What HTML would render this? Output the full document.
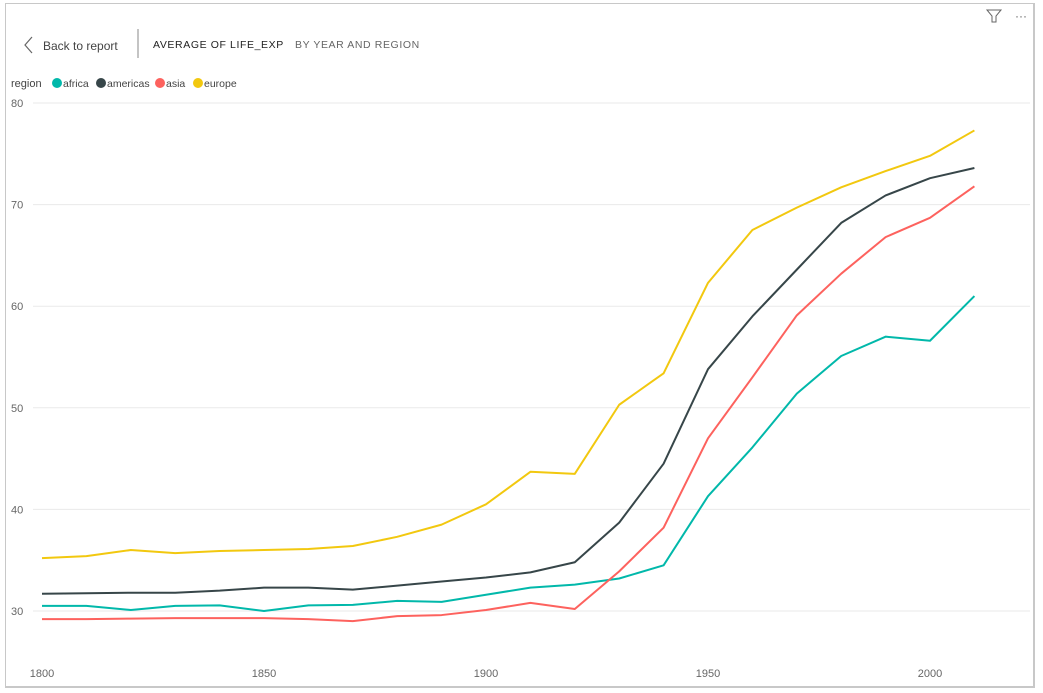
<!DOCTYPE html>
<html><head><meta charset="utf-8"><style>
body{margin:0;width:1043px;height:693px;background:#fff;font-family:"Liberation Sans",sans-serif;overflow:hidden;position:relative}
#frame{position:absolute;left:5px;top:3px;width:1030px;height:685px;border:1px solid #c8c8c8;box-sizing:border-box;border-right-width:2px;border-bottom-width:2px}
svg{position:absolute;left:0;top:0}
</style></head><body>
<div id="frame"></div>
<svg id="c" width="1043" height="693">
<g>
<polyline points="32,37 25,45 32,53" fill="none" stroke="#666" stroke-width="1.2"/>
<text x="43" y="50" font-size="12" fill="#444">Back to report</text></g>
<line x1="138" y1="29" x2="138" y2="58" stroke="#888"/>
<text x="153" y="48" font-size="10.5" fill="#222" letter-spacing="0.6">AVERAGE OF LIFE_EXP</text>
<text x="295" y="48" font-size="10.5" fill="#666" letter-spacing="0.6">BY YEAR AND REGION</text>
<path d="M987,10 L1001,10 L996,16 L996,22 L992,22 L992,16 Z" fill="none" stroke="#666"/>
<text x="1015" y="20" font-size="12" fill="#666">···</text>
<g id="legend"><text x="11" y="87" font-size="11" fill="#444">region</text></g>
<g id="grid"></g><g id="lines"></g>
</svg>
<script>
const years=[1800,1810,1820,1830,1840,1850,1860,1870,1880,1890,1900,1910,1920,1930,1940,1950,1960,1970,1980,1990,2000,2010];
const africa=[30.5,30.5,30.1,30.5,30.55,30.0,30.55,30.6,31.0,30.9,31.6,32.3,32.6,33.2,34.5,41.3,46.1,51.4,55.1,57.0,56.6,61.0];
const americas=[31.7,31.75,31.8,31.8,32.0,32.3,32.3,32.1,32.5,32.9,33.3,33.8,34.8,38.7,44.5,53.8,59.0,63.6,68.2,70.9,72.6,73.6];
const asia=[29.2,29.2,29.25,29.3,29.3,29.3,29.2,29.0,29.5,29.6,30.1,30.8,30.2,33.9,38.2,47.0,53.0,59.1,63.2,66.8,68.7,71.8];
const europe=[35.2,35.4,36.0,35.7,35.9,36.0,36.1,36.4,37.3,38.5,40.5,43.7,43.5,50.3,53.4,62.3,67.5,69.7,71.7,73.3,74.8,77.3];
const yTicks=[30,40,50,60,70,80];
const xTicks=[1800,1850,1900,1950,2000];
const seriesNames=["africa","americas","asia","europe"];
const colors=["#01B8AA","#374649","#FD625E","#F2C80F"];
const NS="http://www.w3.org/2000/svg";
const x=v=>42+(v-1800)*4.44;
const y=v=>611-(v-30)*10.16;
function mk(tag,attrs,parent){const e=document.createElementNS(NS,tag);for(const k in attrs)e.setAttribute(k,attrs[k]);parent.appendChild(e);return e;}
const grid=document.getElementById('grid');
yTicks.forEach(t=>{
 const l=mk('line',{x1:33,x2:1030,y1:y(t),y2:y(t),stroke:'#eaeaea'},grid);
 
 
 const tx=mk('text',{x:11,y:y(t)+4,'font-size':11,fill:'#666'},grid);tx.textContent=t;
 
 
});
xTicks.forEach(t=>{
 const tx=mk('text',{x:x(t),y:677,'font-size':11,fill:'#666','text-anchor':'middle'},grid);tx.textContent=t;
 
 
});
const data=[africa,americas,asia,europe];
const lines=document.getElementById('lines');
data.forEach((s,i)=>{
 const p=mk('polyline',{points:s.map((v,j)=>x(years[j])+','+y(v)).join(' '),fill:'none',stroke:colors[i],'stroke-width':2,'stroke-linejoin':'round'},lines);
 
 
});
const lg=document.getElementById('legend');
let lx=52;
const lw=[44,59,38,50];
seriesNames.forEach((n,i)=>{
 const c=mk('circle',{cx:lx+5,cy:83,r:5,fill:colors[i]},lg);
 
 
 const t=mk('text',{x:lx+11,y:87,'font-size':10.5,fill:'#444'},lg);t.textContent=n;
 
 
 lx+=lw[i];
});
</script>
</body></html>
